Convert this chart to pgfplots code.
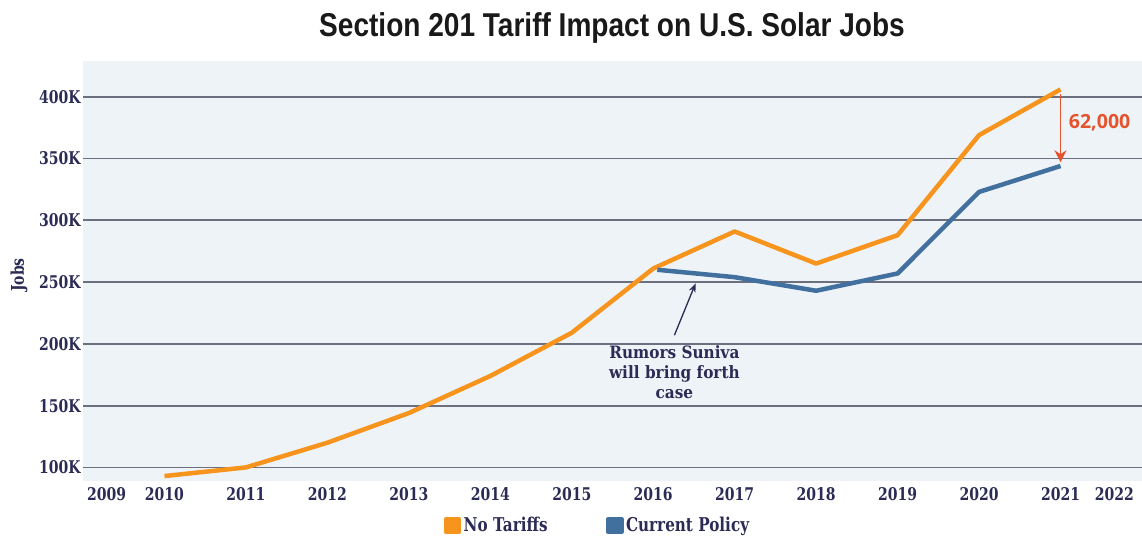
\documentclass[border=0pt]{standalone}
\usepackage{pgfplots}
\pgfplotsset{compat=1.18}
\usetikzlibrary{arrows.meta}
\usepackage{fontspec}
\setmainfont{DejaVu Serif}
\newfontfamily\tickfont[FakeStretch=0.8]{DejaVu Serif}
\newfontfamily\annserif[FakeStretch=0.9]{DejaVu Serif}
\newfontfamily\titlefont[FakeStretch=0.85]{Liberation Sans}
\newfontfamily\annfont{Open Sans}
\definecolor{orangeL}{HTML}{F7941D}
\definecolor{blueL}{HTML}{41709F}
\definecolor{bgc}{HTML}{EEF3F8}
\definecolor{gridc}{HTML}{6C6F7D}
\definecolor{navy}{HTML}{2B2B55}
\definecolor{redA}{HTML}{E5532C}
\begin{document}
\begin{tikzpicture}[x=1pt,y=1pt]
\path[use as bounding box] (0,0) rectangle (1142,535);
\begin{axis}[
  at={(83pt,54pt)}, anchor=south west,
  scale only axis, width=1059pt, height=420pt,
  xmin=2009, xmax=2022, ymin=89, ymax=429,
  axis background/.style={fill=bgc},
  axis line style={draw=none},
  major tick length=0pt,
  ymajorgrids, grid style={gridc, line width=1.8pt},
  ytick={100,150,200,250,300,350,400},
  yticklabel={\pgfmathprintnumber[assume math mode=true]{\tick}K},
  xtick={2009.29,2010,2011,2012,2013,2014,2015,2016,2017,2018,2019,2020,2021,2021.66},
  xticklabels={2009,2010,2011,2012,2013,2014,2015,2016,2017,2018,2019,2020,2021,2022},
  ticklabel style={font=\tickfont\bfseries\fontsize{17.5}{19}\selectfont, text=navy},
  xticklabel style={yshift=-3pt},
  yticklabel style={xshift=1pt},
  legend style={at={(0.486,-0.106)}, anchor=center, draw=none, fill=none,
    legend columns=2, font=\tickfont\bfseries\fontsize{19}{21}\selectfont, text=navy,
    nodes={inner sep=2.5pt},
    /tikz/every even column/.append style={column sep=56pt}},
  legend image code/.code={\fill[#1] (0pt,-6.5pt) rectangle (13pt,6.5pt);},
]
\addplot[color=orangeL, line width=4.5pt, line join=round] coordinates {
 (2010,93) (2011,100) (2012,120) (2013,144) (2014,174) (2015,209)
 (2016,261) (2017,291) (2018,265) (2019,288) (2020,369) (2021,406)};
\addlegendentry{No Tariffs}
\addplot[color=blueL, line width=4.5pt, line join=round] coordinates {
 (2016.05,260) (2017,254) (2018,243) (2019,257) (2020,323) (2021,344)};
\addlegendentry{Current Policy}
\draw[-{Stealth[length=12pt,width=12pt]}, redA, line width=1.5pt] (axis cs:2021,402) -- (axis cs:2021,347);
\node[anchor=west, text=redA, font=\annfont\bfseries\fontsize{19.5}{22}\selectfont] at (axis cs:2021.06,379) {62,000};
\draw[-{Stealth[length=9pt,width=7pt]}, navy, line width=1.3pt] (axis cs:2016.26,207) -- (axis cs:2016.52,249);
\node[anchor=north, align=center, text=navy, font=\annserif\bfseries\fontsize{17}{20}\selectfont] at (axis cs:2016.26,201.5) {Rumors Suniva\\will bring forth\\case};
\end{axis}
\node[font=\titlefont\bfseries\fontsize{33}{38}\selectfont, text=black!90] at (612,507) {Section 201 Tariff Impact on U.S. Solar Jobs};
\node[rotate=90, font=\tickfont\bfseries\fontsize{17.5}{19}\selectfont, text=navy] at (19,260) {Jobs};
\end{tikzpicture}
\end{document}
